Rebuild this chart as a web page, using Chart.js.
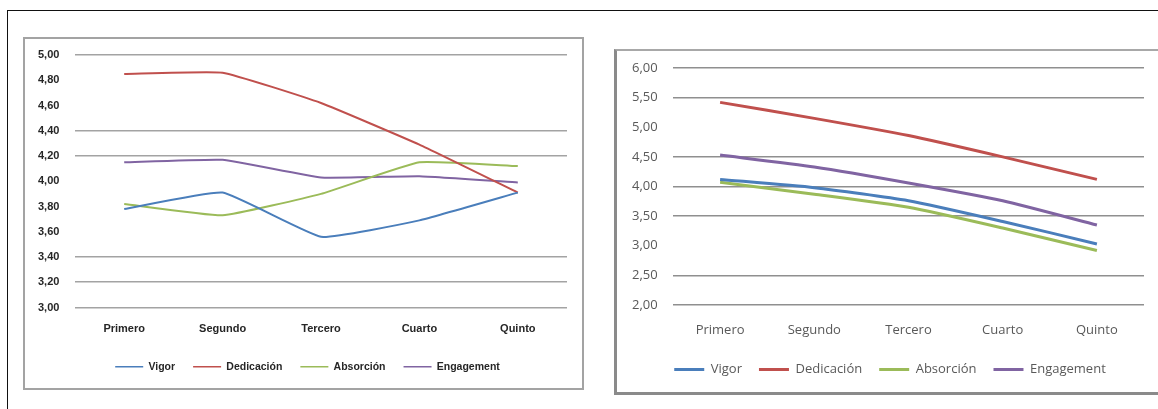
<!DOCTYPE html>
<html lang="es">
<head>
<meta charset="utf-8">
<title>Engagement por curso</title>
<script src="https://cdn.jsdelivr.net/npm/chart.js@4.4.1/dist/chart.umd.min.js"></script>
<style>
  html, body { margin: 0; padding: 0; background: #ffffff; }
  body { width: 1158px; height: 409px; position: relative; overflow: hidden; }
  .frame { position: absolute; left: 7px; top: 10px; width: 1160px; height: 410px;
           border-top: 1px solid #111; border-left: 1px solid #111; box-sizing: border-box; }
  .boxA { position: absolute; left: 23px; top: 37px; width: 561px; height: 353px;
          border: 2px solid #a3a3a3; box-sizing: border-box; }
  .boxB { position: absolute; left: 614px; top: 49px; width: 560px; height: 346px;
          border-top: 2px solid #a8a8a8; border-left: 3px solid #8a8a8a;
          border-bottom: 3px solid #8a8a8a; box-sizing: border-box; }
  #chartA { position: absolute; left: 30px; top: 38px; }
  #chartB { position: absolute; left: 626px; top: 51px; }
</style>
</head>
<body>
<div class="frame"></div>
<div class="boxA"></div>
<div class="boxB"></div>
<canvas id="chartA" width="553" height="351"></canvas>
<canvas id="chartB" width="528" height="340"></canvas>
<script>
// Shared categories (course years) and series names
const categories = ['Primero', 'Segundo', 'Tercero', 'Cuarto', 'Quinto'];
const seriesNames = ['Vigor', 'Dedicación', 'Absorción', 'Engagement'];
const seriesColors = ['#4a7ebb', '#c0504d', '#9bbb59', '#8064a2'];

// First chart: mean scores per course
const vigorA = [3.78, 3.91, 3.56, 3.69, 3.91];
const dedicacionA = [4.85, 4.86, 4.62, 4.29, 3.91];
const absorcionA = [3.82, 3.73, 3.90, 4.15, 4.12];
const engagementA = [4.15, 4.17, 4.03, 4.04, 3.99];
const yTicksA = [3.00, 3.20, 3.40, 3.60, 3.80, 4.00, 4.20, 4.40, 4.60, 4.80, 5.00];
const gridShownA = [3.00, 3.20, 3.40, 4.20, 4.40, 5.00];

// Second chart: mean scores per course
const vigorB = [4.12, 3.98, 3.76, 3.41, 3.03];
const dedicacionB = [5.42, 5.15, 4.86, 4.50, 4.12];
const absorcionB = [4.07, 3.87, 3.65, 3.30, 2.92];
const engagementB = [4.53, 4.33, 4.06, 3.76, 3.35];
const yTicksB = [2.00, 2.50, 3.00, 3.50, 4.00, 4.50, 5.00, 5.50, 6.00];
const gridShownB = [2.00, 2.50, 3.50, 4.00, 4.50, 5.50, 6.00];

const fmt = v => Number(v).toFixed(2).replace('.', ',');
const inList = (list, v) => list.some(t => Math.abs(t - v) < 1e-6);

function buildDatasets(values, width, tension) {
  return values.map((data, i) => ({
    label: seriesNames[i],
    data: data,
    borderColor: seriesColors[i],
    backgroundColor: seriesColors[i],
    borderWidth: width,
    pointRadius: 0,
    pointHoverRadius: 0,
    tension: tension,
    fill: false
  }));
}

function buildChart(canvas, cfg) {
  return new Chart(canvas, {
    type: 'line',
    data: {
      labels: categories,
      datasets: buildDatasets(cfg.values, cfg.lineWidth, cfg.tension)
    },
    options: {
      responsive: false,
      animation: false,
      events: [],
      layout: { padding: cfg.padding },
      plugins: {
        tooltip: { enabled: false },
        legend: {
          position: 'bottom',
          labels: {
            usePointStyle: true,
            pointStyle: 'line',
            pointStyleWidth: cfg.legendLine,
            boxHeight: cfg.legendFont.size,
            padding: cfg.legendGap,
            color: cfg.textColor,
            font: cfg.legendFont,
            generateLabels: chart =>
              Chart.defaults.plugins.legend.labels.generateLabels(chart)
                .map(item => Object.assign(item, { lineWidth: cfg.legendLineWidth }))
          }
        }
      },
      scales: {
        x: {
          offset: true,
          grid: { display: false },
          border: { display: false },
          ticks: { color: cfg.textColor, font: cfg.xFont, padding: cfg.xPad, maxRotation: 0 },
          afterFit: s => { s.height = cfg.xHeight; }
        },
        y: {
          min: cfg.yTicks[0],
          max: cfg.yTicks[cfg.yTicks.length - 1],
          afterBuildTicks: s => { s.ticks = cfg.yTicks.map(v => ({ value: v })); },
          border: { display: false },
          grid: {
            drawTicks: false,
            lineWidth: 1.5,
            color: c => inList(cfg.gridShown, c.tick.value) ? cfg.gridColor : 'rgba(0,0,0,0)'
          },
          // labels share one width, so they are placed by their left edge
          ticks: {
            mirror: true,
            crossAlign: 'near',
            color: cfg.textColor,
            font: cfg.yFont,
            padding: cfg.yPad,
            callback: v => fmt(v)
          },
          afterFit: s => { s.width = cfg.yWidth; }
        }
      }
    }
  });
}

buildChart(document.getElementById('chartA'), {
  values: [vigorA, dedicacionA, absorcionA, engagementA],
  yTicks: yTicksA,
  gridShown: gridShownA,
  gridColor: '#a3a3a3',
  lineWidth: 2,
  tension: 0.12,
  legendLine: 28,
  legendLineWidth: 1.5,
  legendGap: 18,
  textColor: '#262626',
  legendFont: { family: 'Liberation Sans, Arial, sans-serif', size: 10.5, weight: 'bold' },
  xFont: { family: 'Liberation Sans, Arial, sans-serif', size: 11, weight: 'bold' },
  yFont: { family: 'Liberation Sans, Arial, sans-serif', size: 11, weight: 'bold' },
  padding: { top: 17, left: 18, right: 16, bottom: 7 },
  yWidth: 27,
  yPad: -37,
  xHeight: 36,
  xPad: 7
});

buildChart(document.getElementById('chartB'), {
  values: [vigorB, dedicacionB, absorcionB, engagementB],
  yTicks: yTicksB,
  gridShown: gridShownB,
  gridColor: '#8f8f8f',
  lineWidth: 3,
  tension: 0.2,
  legendLine: 30,
  legendLineWidth: 3,
  legendGap: 17,
  textColor: '#595959',
  legendFont: { family: 'Open Sans, sans-serif', size: 13 },
  xFont: { family: 'Open Sans, sans-serif', size: 13 },
  yFont: { family: 'Open Sans, sans-serif', size: 13 },
  padding: { top: 17, left: 10, right: 10, bottom: 5 },
  yWidth: 37,
  yPad: -41,
  xHeight: 41,
  xPad: 9
});
</script>
</body>
</html>
